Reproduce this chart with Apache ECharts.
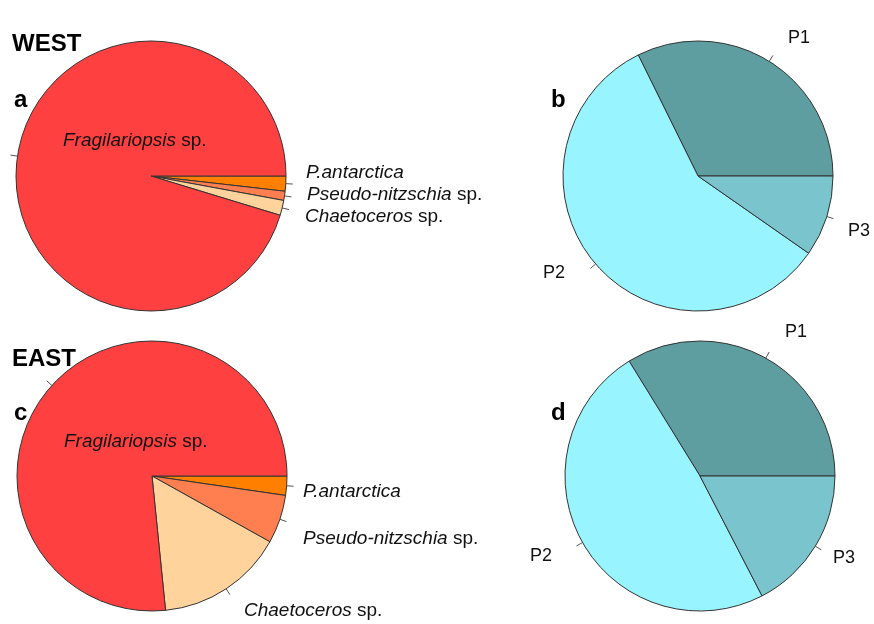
<!DOCTYPE html>
<html>
<head>
<meta charset="utf-8">
<script src="https://cdn.jsdelivr.net/npm/echarts@6.0.0/dist/echarts.min.js"></script>
<style>
  html, body { margin: 0; padding: 0; background: #fff; }
  #chart { width: 874px; height: 624px; }
</style>
</head>
<body>
<div id="chart"></div>
<script>
// diatom taxa, clockwise from 3 o'clock (share of cells, %)
var diatomNames = ['P.antarctica', 'Pseudo-nitzschia sp.', 'Chaetoceros sp.', 'Fragilariopsis sp.'];
var diatomWest = [1.8, 1.1, 1.8, 95.3];
var diatomEast = [2.3, 5.8, 15.3, 76.6];

// pigment groups, counter-clockwise from 3 o'clock (%)
var groupNames = ['P1', 'P2', 'P3'];
var groupWest = [32.3, 58.0, 9.7];
var groupEast = [33.8, 48.8, 17.4];

var regionNames = ['WEST', 'EAST'];
var panelNames = ['a', 'b', 'c', 'd'];

var diatomColors = ['#FF8000', '#FF7F50', '#FFD39B', '#FF4040'];
var groupColors = ['#5F9EA0', '#98F5FF', '#7AC5CD'];

// where the slice labels sit: [x, baseline, align]
var labelPosA = [[306, 182, 'left'], [307, 204, 'left'], [305, 226, 'left'], [63, 150, 'left']];
var labelPosC = [[303, 501, 'left'], [303, 548, 'left'], [244, 620, 'left'], [64, 451, 'left']];
var labelPosB = [[788, 47, 'left'], [565, 282, 'right'], [848, 240, 'left']];
var labelPosD = [[785, 341, 'left'], [552, 565, 'right'], [833, 567, 'left']];

var FONT = '"Liberation Sans", Arial, sans-serif';

function pieSeries(names, values, colors, center, clockwise) {
  return {
    type: 'pie',
    center: center,
    radius: 135,
    startAngle: 0,
    clockwise: clockwise,
    avoidLabelOverlap: false,
    silent: true,
    data: names.map(function (n, i) {
      return { name: n, value: values[i], itemStyle: { color: colors[i] } };
    }),
    itemStyle: { borderColor: '#333', borderWidth: 1 },
    // empty label, only the small R-style tick is drawn
    label: { show: true, position: 'outside', formatter: ' ', fontSize: 1 },
    labelLine: {
      show: true, length: 7, length2: 0, smooth: false,
      lineStyle: { color: '#555', width: 1 }
    },
    emphasis: { disabled: true }
  };
}

// "Genus sp." -> italic genus, upright "sp."
function richName(name) {
  var m = name.match(/^(.*?)( sp\.)$/);
  if (m) return '{i|' + m[1] + '}{n|' + m[2] + '}';
  if (/^P\d$/.test(name)) return '{n|' + name + '}';
  return '{i|' + name + '}';
}

function sliceLabels(names, pos, size) {
  return names.map(function (n, i) {
    return {
      type: 'text',
      z: 100,
      x: pos[i][0], y: pos[i][1],
      style: {
        text: richName(n),
        align: pos[i][2],
        verticalAlign: 'bottom',
        rich: {
          i: { fontFamily: FONT, fontStyle: 'italic', fontSize: size, fill: '#111', lineHeight: size },
          n: { fontFamily: FONT, fontSize: size, fill: '#111', lineHeight: size }
        }
      }
    };
  });
}

function bold(text, x, y) {
  return {
    type: 'text', x: x, y: y, z: 100,
    style: { text: text, font: 'bold 24px ' + FONT, fill: '#000', verticalAlign: 'alphabetic' }
  };
}

var chart = echarts.init(document.getElementById('chart'), null, { renderer: 'canvas' });

var graphics = []
  .concat([bold(regionNames[0], 12, 32), bold(regionNames[1], 12, 347)])
  .concat([bold(panelNames[0], 14, 88), bold(panelNames[1], 551, 88),
           bold(panelNames[2], 14, 401), bold(panelNames[3], 551, 401)])
  .concat(sliceLabels(diatomNames, labelPosA, 19))
  .concat(sliceLabels(diatomNames, labelPosC, 19))
  .concat(sliceLabels(groupNames, labelPosB, 18))
  .concat(sliceLabels(groupNames, labelPosD, 18));

var option = {
  animation: false,
  backgroundColor: '#fff',
  series: [
    pieSeries(diatomNames, diatomWest, diatomColors, [151, 176], true),
    pieSeries(groupNames, groupWest, groupColors, [698, 176], false),
    pieSeries(diatomNames, diatomEast, diatomColors, [152, 476], true),
    pieSeries(groupNames, groupEast, groupColors, [700, 476], false)
  ],
  graphic: graphics
};
chart.setOption(option);
</script>
</body>
</html>
